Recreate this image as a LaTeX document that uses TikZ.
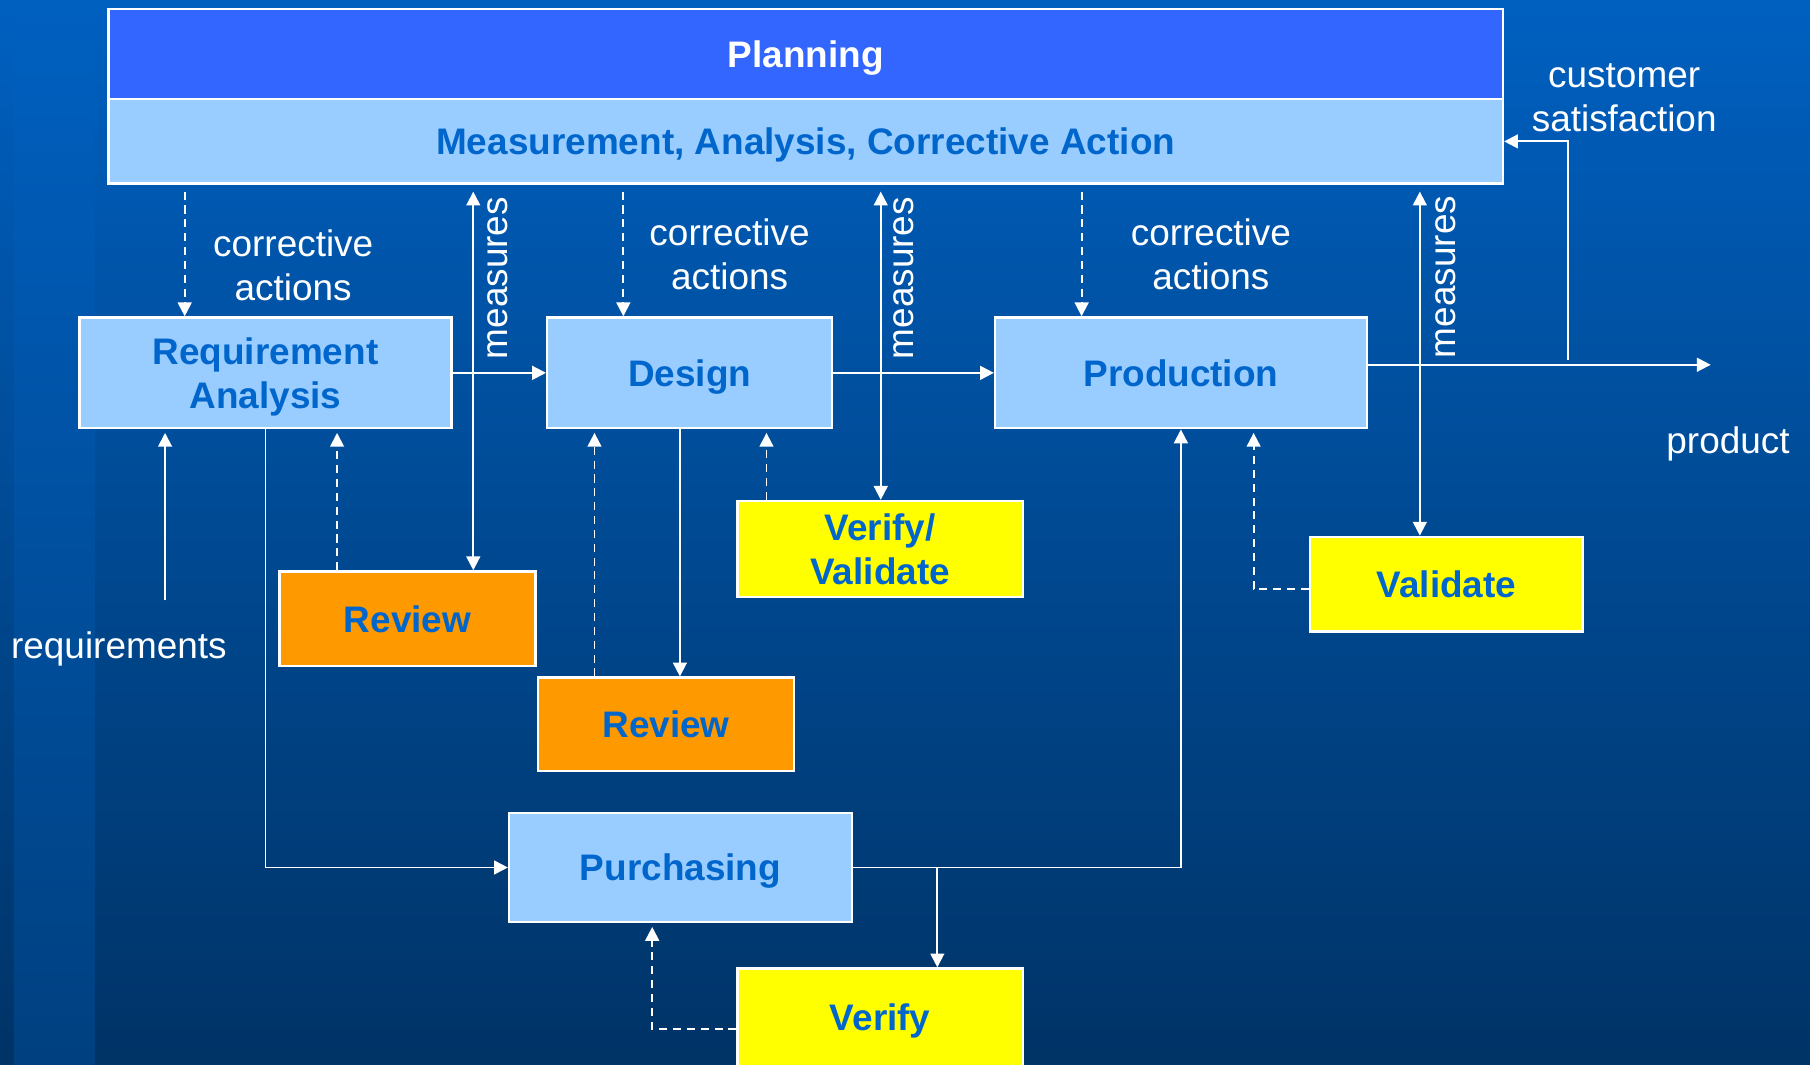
\documentclass[tikz,border=0pt]{standalone}
\usepackage{fontspec}
\setmainfont{Liberation Sans}
\usetikzlibrary{arrows.meta,calc}
\definecolor{bgtop}{RGB}{0,96,192}
\definecolor{bgbot}{RGB}{0,51,102}
\definecolor{bandbot}{RGB}{0,64,128}
\definecolor{planfill}{RGB}{51,102,255}
\definecolor{lightfill}{RGB}{153,204,255}
\definecolor{orangefill}{RGB}{255,153,0}
\definecolor{yellowfill}{RGB}{255,255,0}
\definecolor{tblue}{RGB}{0,102,204}
\tikzset{
  box/.style={draw=white, line width=1pt, inner sep=0pt, align=center, text depth=0pt,
    font={\fontsize{16}{19}\selectfont\bfseries}, text=tblue},
  lightbox/.style={box, fill=lightfill},
  orangebox/.style={box, fill=orangefill},
  yellowbox/.style={box, fill=yellowfill},
  lbl/.style={text=white, align=center, inner sep=0pt, font={\fontsize{16}{19}\selectfont}},
  arr/.style={draw=white, line width=0.85pt, -{Triangle[length=6pt,width=6pt]}},
  dbl/.style={draw=white, line width=0.85pt, {Triangle[length=6pt,width=6pt]}-{Triangle[length=6pt,width=6pt]}},
  dasharr/.style={arr, dash pattern=on 3.5pt off 2.5pt},
}
\begin{document}
\begin{tikzpicture}[x=0.5pt,y=-0.5pt]
\useasboundingbox (0,0) rectangle (1568,922);
\shade[top color=bgtop, bottom color=bgbot] (0,0) rectangle (1568,922);
\shade[top color=bgtop, bottom color=bandbot] (12,0) rectangle (82,922);

% top boxes
\node[box, fill=planfill, text=white, minimum width=604pt, minimum height=39pt] (plan) at (698,47) {Planning};
\node[lightbox, minimum width=604pt, minimum height=36.5pt] (meas) at (698,122.5) {Measurement, Analysis, Corrective Action};

% process boxes
\node[lightbox, minimum width=161pt, minimum height=48pt] (req) at (230,323) {Requirement\\Analysis};
\node[lightbox, minimum width=123.5pt, minimum height=48pt] (design) at (597.5,323) {Design};
\node[lightbox, minimum width=161pt, minimum height=48pt] (prod) at (1023,323) {Production};
\node[lightbox, minimum width=148.5pt, minimum height=47.5pt] (purch) at (589.5,751.5) {Purchasing};
\node[orangebox, minimum width=111pt, minimum height=41pt] (rev1) at (353,536) {Review};
\node[orangebox, minimum width=111pt, minimum height=40.5pt] (rev2) at (577,627.5) {Review};
\node[yellowbox, minimum width=123.5pt, minimum height=41.5pt] (vv) at (762.5,475.5) {Verify/\\Validate};
\node[yellowbox, minimum width=118pt, minimum height=41pt] (val) at (1253,506) {Validate};
\node[yellowbox, minimum width=123.5pt, minimum height=45.5pt, text depth=3.5pt] (ver) at (762.5,884.5) {Verify};

% labels
\node[lbl] (ca1) at (254,230) {corrective\\actions};
\node[lbl] (ca2) at (632,220) {corrective\\actions};
\node[lbl] (ca3) at (1049,220) {corrective\\actions};
\node[lbl, rotate=90] (ms1) at (431,241) {measures};
\node[lbl, rotate=90] (ms2) at (783,241) {measures};
\node[lbl, rotate=90] (ms3) at (1252,240) {measures};
\node[lbl] (cust) at (1407,85) {customer\\satisfaction};
\node[lbl] (prodlbl) at (1497,385) {product};
\node[lbl] (reqlbl) at (103,562) {requirements};

% helper coordinates
\coordinate (xa) at (160,0);
\coordinate (xb) at (540,0);
\coordinate (xc) at (937,0);
\coordinate (m1) at (410,0);
\coordinate (m2) at (763,0);
\coordinate (m3) at (1230,0);
\coordinate (d1) at (292,0);
\coordinate (d2) at (589,0);
\coordinate (d3) at (515,0);
\coordinate (d4) at (664,0);
\coordinate (d5) at (1086,510);
\coordinate (d6) at (565,891);
\coordinate (pr) at (1482,316);
\coordinate (cs) at (1358,312);
\coordinate (rq) at (143,520);
\coordinate (vb) at (812,752);

% corrective actions
\draw[dasharr, shorten <=3pt] (meas.south -| xa) -- (req.north -| xa);
\draw[dasharr, shorten <=3pt] (meas.south -| xb) -- (design.north -| xb);
\draw[dasharr, shorten <=3pt] (meas.south -| xc) -- (prod.north -| xc);

% measures
\draw[dbl, shorten <=3pt] (meas.south -| m1) -- (rev1.north -| m1);
\draw[dbl, shorten <=3pt] (meas.south -| m2) -- (vv.north -| m2);
\draw[dbl, shorten <=3pt] (meas.south -| m3) -- (val.north -| m3);

% main flow
\draw[arr] (req.east) -- (design.west);
\draw[arr] (design.east) -- (prod.west);
\draw[arr] (prod.east |- pr) -- (pr);
\draw[arr] (cs) |- (meas.east);
\draw[arr, shorten >=1.5pt] (rq) -- (req.south -| rq);
\draw[arr] (req.south) |- (purch.west);
\draw[arr] (design.south -| d2) -- (rev2.north -| d2);
\draw[arr] (purch.east) -| (prod.south);
\draw[arr] (vb) -- (ver.north -| vb);

% feedback (dashed)
\draw[dasharr, shorten >=1.5pt] (rev1.north -| d1) -- (req.south -| d1);
\draw[dasharr, shorten >=1.5pt] (rev2.north -| d3) -- (design.south -| d3);
\draw[dasharr, shorten >=1.5pt] (vv.north -| d4) -- (design.south -| d4);
\draw[dasharr, shorten >=1.5pt] (val.west |- d5) -| (prod.south -| d5);
\draw[dasharr, shorten >=1.5pt] (ver.west |- d6) -| (purch.south -| d6);
\end{tikzpicture}
\end{document}
